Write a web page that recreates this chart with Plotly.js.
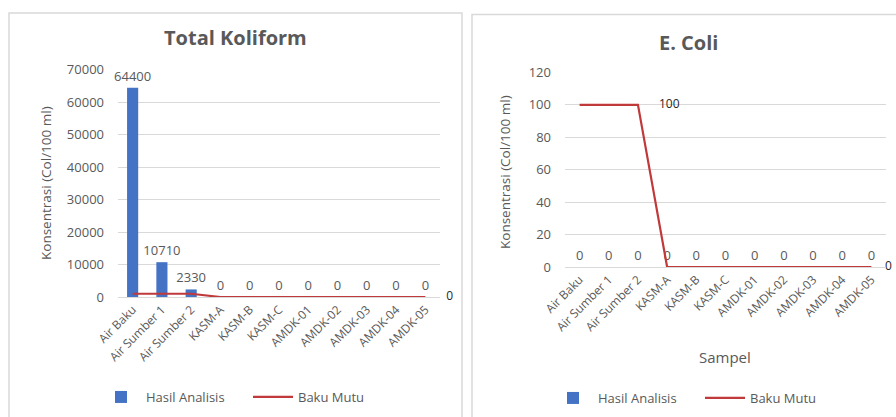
<!DOCTYPE html>
<html>
<head>
<meta charset="utf-8">
<script src="https://cdn.plot.ly/plotly-3.0.1.min.js"></script>
<style>
html,body{margin:0;padding:0;background:#fff;}
#chart{width:896px;height:417px;}
</style>
</head>
<body>
<div id="chart"></div>
<script>
const categories = ["Air Baku","Air Sumber 1","Air Sumber 2","KASM-A","KASM-B","KASM-C","AMDK-01","AMDK-02","AMDK-03","AMDK-04","AMDK-05"];
const koliformHasil = [64400,10710,2330,0,0,0,0,0,0,0,0];
const koliformBaku = [1000,1000,1000,0,0,0,0,0,0,0,0];
const ecoliHasil = [0,0,0,0,0,0,0,0,0,0,0];
const ecoliBaku = [100,100,100,0,0,0,0,0,0,0,0];
const koliformBakuLabelIdx = [10];
const ecoliBakuLabelIdx = [2,10];

const gray = '#595959';
const blue = '#4472C4';
const red = '#C0393B';
const fontFam = '"Open Sans", "Liberation Sans", Arial, sans-serif';

function labelsAt(vals, idx){ return vals.map((v,i)=> idx.includes(i) ? String(v) : ''); }
function padSizes(vals, idx, pads){ return vals.map((v,i)=> idx.includes(i) ? pads[idx.indexOf(i)] : 0); }

const barText = {size:13,color:gray,family:fontFam};
const lineText = {size:12,color:'#262626',family:fontFam};
const clearMarker = (vals, idx, pads) => ({size:padSizes(vals, idx, pads), color:'rgba(0,0,0,0)', line:{width:0}});

const traces = [
  {type:'bar', x:categories, y:koliformHasil, name:'Hasil Analisis', marker:{color:blue},
   width:0.38, text:koliformHasil.map(String), textposition:'outside', constraintext:'none', cliponaxis:false,
   textfont:barText, outsidetextfont:barText, xaxis:'x', yaxis:'y', legend:'legend'},
  {type:'scatter', mode:'lines+markers+text', x:categories, y:koliformBaku, name:'Baku Mutu',
   line:{color:red,width:2.2}, marker:clearMarker(koliformBaku,koliformBakuLabelIdx,[32]),
   text:labelsAt(koliformBaku,koliformBakuLabelIdx), textposition:'middle right',
   textfont:lineText, cliponaxis:false, xaxis:'x', yaxis:'y', legend:'legend'},
  {type:'bar', x:categories, y:ecoliHasil, name:'Hasil Analisis', marker:{color:blue},
   width:0.38, text:ecoliHasil.map(String), textposition:'outside', constraintext:'none', cliponaxis:false,
   textfont:barText, outsidetextfont:barText, xaxis:'x2', yaxis:'y2', legend:'legend2'},
  {type:'scatter', mode:'lines+markers+text', x:categories, y:ecoliBaku, name:'Baku Mutu',
   line:{color:red,width:2.2}, marker:clearMarker(ecoliBaku,ecoliBakuLabelIdx,[32,20]),
   text:labelsAt(ecoliBaku,ecoliBakuLabelIdx), textposition:'middle right',
   textfont:lineText, cliponaxis:false, xaxis:'x2', yaxis:'y2', legend:'legend2'}
];

const xcommon = {type:'category', tickangle:-45, tickfont:{size:12,color:gray,family:fontFam},
  range:[-0.5, categories.length - 0.5], autorange:false,
  showgrid:false, showline:true, linecolor:'#d9d9d9', linewidth:1, ticks:'', zeroline:false, fixedrange:true, automargin:false};
const ycommon = {showgrid:true, gridcolor:'#d9d9d9', gridwidth:1, zeroline:false, showline:false, tickformat:'d',
  tickfont:{size:13,color:gray,family:fontFam}, ticks:'', ticklabelstandoff:13, automargin:false, fixedrange:true};

const legendCommon = {orientation:'h', xanchor:'left', yanchor:'middle', itemwidth:40,
  entrywidth:97, entrywidthmode:'pixels',
  font:{size:13,color:gray,family:fontFam}, bgcolor:'rgba(0,0,0,0)'};

const layout = {
  width:896, height:417, margin:{l:0,r:0,t:0,b:0}, paper_bgcolor:'#fff', plot_bgcolor:'#fff',
  font:{family:fontFam,color:gray},
  xaxis:Object.assign({}, xcommon, {domain:[118/896, 440/896], anchor:'y'}),
  yaxis:Object.assign({}, ycommon, {domain:[1-297/417, 1-69.5/417], range:[0,70000], dtick:10000, anchor:'x'}),
  xaxis2:Object.assign({}, xcommon, {domain:[565/896, 886/896], anchor:'y2'}),
  yaxis2:Object.assign({}, ycommon, {domain:[1-267/417, 1-72.5/417], range:[0,120], dtick:20, anchor:'x2'}),
  legend:Object.assign({}, legendCommon, {x:96/896, y:1-397/417}),
  legend2:Object.assign({}, legendCommon, {x:548/896, y:1-398/417}),
  shapes:[
    {type:'rect', xref:'paper', yref:'paper', x0:9/896, x1:462/896, y0:-0.05, y1:1-13/417,
     line:{color:'#d9d9d9',width:1.5}, fillcolor:'rgba(0,0,0,0)'},
    {type:'rect', xref:'paper', yref:'paper', x0:472/896, x1:1.05, y0:-0.05, y1:1-14.5/417,
     line:{color:'#d9d9d9',width:1.5}, fillcolor:'rgba(0,0,0,0)'}
  ],
  annotations:[
    {text:'<b>Total Koliform</b>', xref:'paper', yref:'paper', x:235/896, y:1-38/417, showarrow:false,
     font:{size:20,color:gray,family:fontFam}, xanchor:'center', yanchor:'middle'},
    {text:'<b>E. Coli</b>', xref:'paper', yref:'paper', x:688/896, y:1-42/417, showarrow:false,
     font:{size:20,color:gray,family:fontFam}, xanchor:'center', yanchor:'middle'},
    {text:'Konsentrasi (Col/100 ml)', xref:'paper', yref:'paper', x:46/896, y:1-183/417, textangle:-90,
     showarrow:false, font:{size:13.5,color:gray,family:fontFam}, xanchor:'center', yanchor:'middle'},
    {text:'Konsentrasi (Col/100 ml)', xref:'paper', yref:'paper', x:505/896, y:1-172/417, textangle:-90,
     showarrow:false, font:{size:13.5,color:gray,family:fontFam}, xanchor:'center', yanchor:'middle'},
    {text:'Sampel', xref:'paper', yref:'paper', x:725/896, y:1-357/417, showarrow:false,
     font:{size:15,color:gray,family:fontFam}, xanchor:'center', yanchor:'middle'}
  ],
  showlegend:true
};

Plotly.newPlot('chart', traces, layout, {displayModeBar:false, staticPlot:true});
</script>
</body>
</html>
